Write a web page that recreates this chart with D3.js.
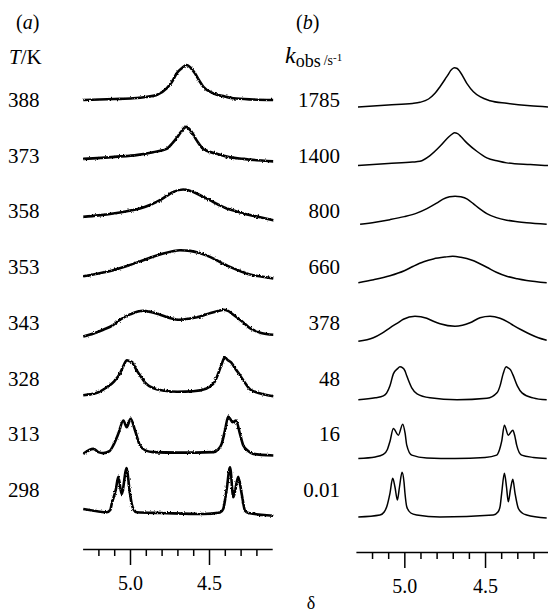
<!DOCTYPE html>
<html><head><meta charset="utf-8">
<script src="https://cdn.jsdelivr.net/npm/d3@7"></script>
<style>body{margin:0;background:#fff}</style>
</head><body>
<script>
// ---- data: row labels ----
const tempLabels = ["388","373","358","353","343","328","313","298"];
const kLabels = ["1785","1400","800","660","378","48","16","0.01"];
const majorTicks = [5.0, 4.5];
const minorTicks = [5.2, 5.1, 4.9, 4.8, 4.7, 4.6, 4.4, 4.3, 4.2];
// ---- (a) experimental spectra: [delta, intensity] ----
const a388 = [[5.296,1],[5.10,2],[4.981,2.7],[4.90,4],[4.831,6],[4.768,12.7],[4.735,19],[4.704,27.7],[4.67,33],[4.641,36],[4.615,33],[4.589,27.7],[4.56,20],[4.536,14.3],[4.473,7.7],[4.40,4.5],[4.346,2.7],[4.22,1.5],[4.094,1]];
const a373 = [[5.296,1],[5.10,3],[4.95,5],[4.854,7.7],[4.768,11],[4.73,17],[4.704,22],[4.677,28],[4.645,33],[4.61,28],[4.576,19],[4.536,11],[4.451,6],[4.38,3],[4.283,1],[4.094,-1.5]];
const a358 = [[5.296,1.8],[5.20,3.3],[5.106,5.2],[5.02,7.5],[4.937,10.2],[4.87,14],[4.81,18.5],[4.766,23],[4.726,26.8],[4.663,29.2],[4.599,26.8],[4.55,23],[4.494,18.5],[4.44,14],[4.388,10.2],[4.33,7.5],[4.283,5.2],[4.19,2],[4.093,-1.5]];
const a353 = [[5.296,1.3],[5.20,4],[5.106,7.3],[5.01,12],[4.916,17.3],[4.85,21],[4.789,24],[4.73,26.3],[4.684,27.3],[4.620,26.7],[4.56,24.5],[4.494,20.7],[4.43,15.5],[4.367,10.7],[4.30,6.3],[4.241,3],[4.17,1],[4.093,-1]];
const a343 = [[5.296,0],[5.23,3],[5.169,6.7],[5.11,11],[5.063,16.7],[5.0,22],[4.95,25],[4.916,25.7],[4.87,24.5],[4.81,21.7],[4.75,18.5],[4.684,16.7],[4.62,18],[4.557,20],[4.49,23.5],[4.43,26],[4.41,26.7],[4.38,25.5],[4.346,21.7],[4.29,15],[4.241,8.3],[4.17,3.5],[4.093,1.7]];
const a328 = [[5.296,0],[5.20,3],[5.147,8],[5.10,14],[5.063,22],[5.04,30],[5.02,35],[5.00,34],[4.985,33],[4.965,27],[4.937,20],[4.90,12],[4.85,7],[4.78,4.5],[4.70,3.5],[4.60,4],[4.52,6.5],[4.47,12],[4.441,22],[4.42,31],[4.40,38],[4.38,35],[4.36,33],[4.335,27],[4.304,20],[4.27,12],[4.241,6],[4.18,2],[4.093,-1]];
const a313 = [[5.296,0.3],[5.232,5.3],[5.20,2],[5.169,1],[5.13,3],[5.106,8.7],[5.074,20.3],[5.042,33.7],[5.021,27],[4.996,35.3],[4.968,23.7],[4.937,8.7],[4.90,3.5],[4.853,2],[4.70,1.5],[4.473,2],[4.44,5],[4.420,10.3],[4.399,23.7],[4.378,37.7],[4.350,32],[4.329,33.7],[4.304,20.3],[4.283,8.7],[4.25,3],[4.220,0.3],[4.093,-1.3]];
const a298 = [[5.296,4],[5.20,1.5],[5.147,0.7],[5.125,3],[5.116,9],[5.089,24],[5.074,36.3],[5.053,19],[5.021,45],[5.004,24],[4.989,9],[4.975,3],[4.958,0.7],[4.80,0],[4.536,-1],[4.43,0.5],[4.410,4],[4.388,24],[4.367,45.7],[4.346,15.7],[4.315,36.3],[4.293,19],[4.272,2.3],[4.25,0],[4.093,-2.7]];
// ---- (b) simulated spectra ----
const b1785 = [[5.287,0],[5.10,2],[4.95,3.5],[4.903,4.7],[4.85,8],[4.81,13.7],[4.779,20.3],[4.737,30.3],[4.706,37.7],[4.690,39.3],[4.672,38.5],[4.655,35.3],[4.613,23.7],[4.572,15.3],[4.531,10.3],[4.469,6.3],[4.366,3.7],[4.22,1.2],[4.110,0]];
const b1400 = [[5.287,0],[5.10,2],[4.95,3.5],[4.903,4.3],[4.841,10],[4.779,19.3],[4.735,27],[4.700,32],[4.690,32.7],[4.670,32],[4.650,29],[4.613,22.7],[4.551,14.3],[4.489,7.7],[4.42,4.5],[4.366,2.7],[4.22,1],[4.110,0]];
const b800 = [[5.274,0],[5.18,2],[5.089,4.5],[5.0,7.5],[4.923,11],[4.86,15.5],[4.80,21],[4.76,25],[4.72,27.3],[4.686,28],[4.65,27.3],[4.61,25],[4.573,20.5],[4.53,15],[4.489,10.5],[4.43,6.5],[4.366,4],[4.30,2.5],[4.242,1.5],[4.118,0]];
const b660 = [[5.285,0],[5.19,3],[5.089,7],[5.0,12],[4.944,16.5],[4.88,21],[4.82,23.8],[4.75,25.6],[4.70,26.4],[4.65,25.4],[4.58,22.5],[4.489,15.5],[4.43,10.5],[4.366,6.5],[4.30,4],[4.242,2.3],[4.118,0]];
const b378 = [[5.285,0],[5.192,3.5],[5.14,8],[5.089,13.5],[5.04,18.5],[5.006,22],[4.934,25],[4.861,23],[4.82,20],[4.779,17.5],[4.686,15],[4.64,16],[4.593,18.5],[4.531,23.5],[4.469,25],[4.407,23],[4.36,19.5],[4.325,16],[4.27,11],[4.221,7],[4.17,3.5],[4.118,1]];
const b48 = [[5.285,0],[5.180,2],[5.130,4],[5.109,7],[5.089,14],[5.068,26],[5.043,31],[5.027,33],[5.010,32],[4.996,29],[4.985,24],[4.954,12],[4.921,6],[4.841,2],[4.673,0],[4.488,1.5],[4.426,7],[4.407,14],[4.388,26],[4.369,33],[4.357,32],[4.342,30],[4.327,25],[4.30,14],[4.271,7],[4.203,2],[4.118,0]];
const b16 = [[5.285,0],[5.180,1.5],[5.130,4],[5.105,9],[5.089,17],[5.068,30],[5.037,23.3],[5.010,34.3],[4.995,25],[4.985,13.3],[4.954,3.3],[4.861,0.5],[4.686,0],[4.50,1],[4.428,3.3],[4.41,9],[4.397,17],[4.380,33.3],[4.356,23.3],[4.328,28.3],[4.315,22],[4.304,13.3],[4.273,3.3],[4.20,1],[4.118,0]];
const b001 = [[5.285,0],[5.151,2],[5.125,5],[5.109,10.3],[5.089,23.7],[5.072,38.7],[5.058,30],[5.043,17],[5.030,30],[5.014,44.7],[5.002,35],[4.996,23.7],[4.985,10.3],[4.96,4],[4.923,2],[4.779,0],[4.449,2],[4.42,5],[4.407,10.3],[4.397,23.7],[4.380,43.7],[4.367,30],[4.356,15.3],[4.342,28],[4.328,37.7],[4.314,23.7],[4.294,8.7],[4.27,4],[4.242,2],[4.118,-1]];

const seriesA = [a388,a373,a358,a353,a343,a328,a313,a298];
const seriesB = [b1785,b1400,b800,b660,b378,b48,b16,b001];

const W = 548, H = 612;
const svg = d3.select("body").append("svg").attr("width",W).attr("height",H)
  .style("font-family","'Liberation Serif','Times New Roman',serif");

// rough-trace filter for experimental (noisy) spectra
const defs = svg.append("defs");
const f = defs.append("filter").attr("id","rough").attr("filterUnits","userSpaceOnUse")
  .attr("x",0).attr("y",0).attr("width",W).attr("height",H);
f.append("feTurbulence").attr("type","fractalNoise").attr("baseFrequency","0.7 0.5").attr("numOctaves",2).attr("seed",7).attr("result","t");
f.append("feDisplacementMap").attr("in","SourceGraphic").attr("in2","t").attr("scale",2.6)
  .attr("xChannelSelector","R").attr("yChannelSelector","G");

const xA = d3.scaleLinear().domain([5.3,4.1]).range([82.6,272.2]);
const xB = d3.scaleLinear().domain([5.3,4.1]).range([355.9,549.6]);
const rowA = d3.scalePoint().domain(tempLabels).range([101,513]);
const rowB = d3.scalePoint().domain(kLabels).range([107,517]);
const labA = d3.scalePoint().domain(tempLabels).range([100,490]);
const labB = d3.scalePoint().domain(kLabels).range([100,490]);
const yI = d3.scaleLinear().domain([0,40]).range([0,-40]);

function drawPanel(x, rows, labels, series, width, filter){
  const line = d3.line().x(d=>x(d[0])).y(d=>yI(d[1])).curve(d3.curveMonotoneX);
  const g = svg.append("g");
  if(filter) g.attr("filter",filter);
  g.selectAll("path.spec").data(series).join("path")
    .attr("class","spec")
    .attr("transform",(d,i)=>`translate(0,${rows(labels[i])})`)
    .attr("d",line).attr("fill","none").attr("stroke","#000")
    .attr("stroke-width",width).attr("stroke-linejoin","round");
}
drawPanel(xA,rowA,tempLabels,seriesA,2.6,"url(#rough)");
drawPanel(xB,rowB,kLabels,seriesB,1.5,null);

// row labels
svg.append("g").selectAll("text").data(tempLabels).join("text")
  .attr("x",8).attr("y",d=>labA(d)+7).attr("font-size",21).text(d=>d);
svg.append("g").selectAll("text").data(kLabels).join("text")
  .attr("x",340).attr("y",d=>labB(d)+7).attr("text-anchor","end").attr("font-size",21).text(d=>d);

// headers
const ha = svg.append("text").attr("x",16).attr("y",29).attr("font-size",20);
ha.append("tspan").text("(");
ha.append("tspan").attr("font-style","italic").text("a");
ha.append("tspan").text(")");
const tk = svg.append("text").attr("x",9).attr("y",64).attr("font-size",21);
tk.append("tspan").attr("font-style","italic").text("T");
tk.append("tspan").text("/K");
const hb = svg.append("text").attr("x",296).attr("y",29).attr("font-size",20);
hb.append("tspan").text("(");
hb.append("tspan").attr("font-style","italic").text("b");
hb.append("tspan").text(")");
const kk = svg.append("text").attr("x",285).attr("y",63).attr("font-size",24);
kk.append("tspan").attr("font-style","italic").text("k");
kk.append("tspan").attr("font-size",18).attr("dy",4).text("obs");
kk.append("tspan").attr("font-size",14).attr("dx",3).attr("dy",-2).text("/s");
kk.append("tspan").attr("font-size",11).attr("dy",-4).text("-1");

// axes
function drawAxis(x, y){
  const g = svg.append("g").attr("transform",`translate(0,${y})`);
  g.append("g").call(d3.axisBottom(x).tickValues(minorTicks).tickSize(7).tickSizeOuter(0).tickFormat(""));
  const gm = g.append("g").call(d3.axisBottom(x).tickValues(majorTicks).tickSize(16).tickSizeOuter(0).tickPadding(11).tickFormat(d3.format(".1f")));
  gm.select(".domain").remove();
  g.selectAll("path,line").attr("stroke","#000").attr("stroke-width",1.5);
  gm.selectAll("text").attr("font-size",20).attr("font-family","'Liberation Serif',serif").attr("fill","#000");
}
drawAxis(xA,549);
drawAxis(xB,552);

svg.append("text").attr("x",311).attr("y",609).attr("text-anchor","middle").attr("font-size",18).text("δ");
</script>
</body></html>
